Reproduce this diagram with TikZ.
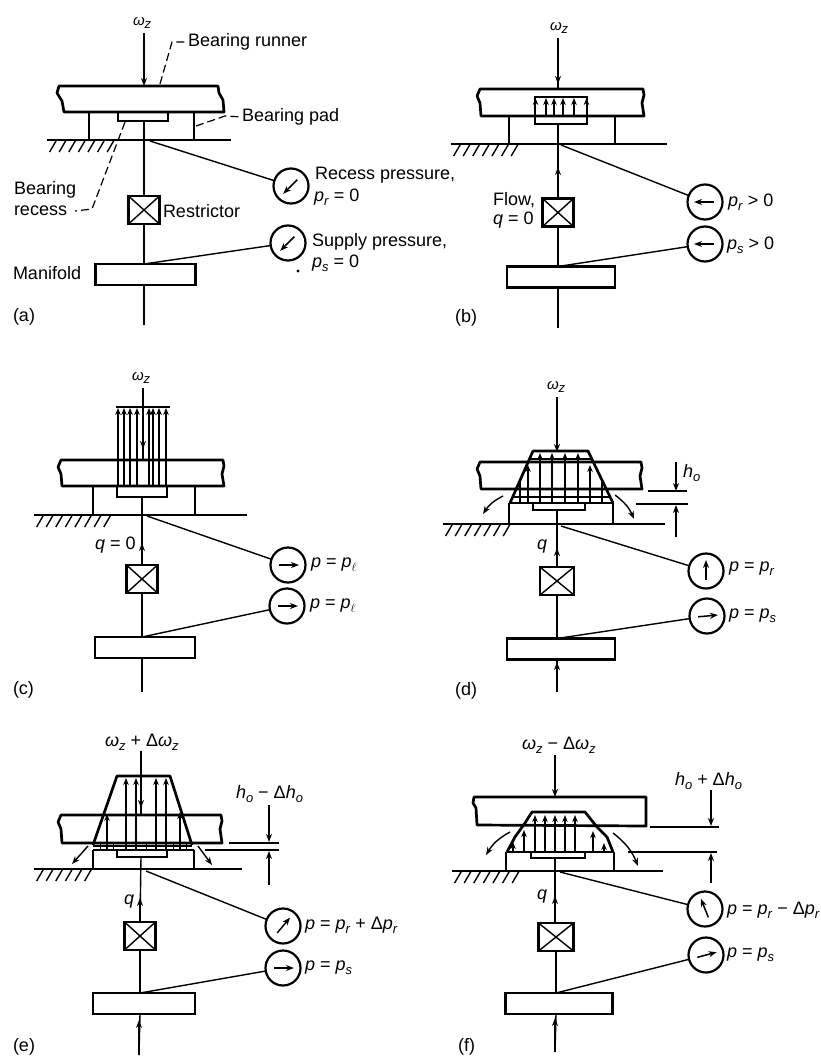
\documentclass[tikz,border=0pt]{standalone}
\usepackage{fontspec}
\setmainfont{Liberation Sans}
\usetikzlibrary{arrows.meta,calc}
\newcommand{\sbs}[1]{\raisebox{-0.4ex}{\fontsize{13}{13}\selectfont\textit{#1}}}
\newcommand{\wz}{\textit{ω}\sbs{z}}
\newcommand{\ppr}{\textit{p}\sbs{r}}
\newcommand{\pps}{\textit{p}\sbs{s}}
\newcommand{\ppl}{\textit{p}\raisebox{-0.4ex}{\fontsize{13}{13}\selectfont$\ell$}}
\newcommand{\hho}{\textit{h}\sbs{o}}
\tikzset{
  heavy/.style={line width=2.7pt,line join=round},
  fine/.style={line width=1.4pt},
  arr/.style={line width=1.4pt,-{Stealth[length=8pt,width=6pt]}},
  lead/.style={line width=1.2pt,dash pattern=on 8pt off 4pt},
  lbl/.style={inner sep=0pt,outer sep=0pt,anchor=west,font=\fontsize{18}{20}\selectfont},
  gauge/.style={draw,circle,line width=2.2pt,minimum size=35pt,inner sep=0pt,outer sep=0pt},
  restrictor/.style={draw,line width=2.8pt,minimum width=31pt,minimum height=28pt,inner sep=0pt,outer sep=0pt,
    path picture={\draw[line width=1.4pt] (path picture bounding box.south west)--(path picture bounding box.north east)
      (path picture bounding box.south east)--(path picture bounding box.north west);}},
  manifold/.style={draw,line width=2.8pt,minimum width=100pt,minimum height=21pt,inner sep=0pt,outer sep=0pt},
}
\newcommand{\runner}[4]{\draw[heavy] ({#1+3},#3) -- ({#2-1},#3) -- (#2,{#3+6}) -- ({#2-2},{#3+14}) -- (#2,#4) -- ({#1+4},#4) -- ({#1+3},{#3+14}) -- (#1,{#3+7}) -- cycle;}
\newcommand{\ground}[4]{\draw[heavy] (#1,#3) -- (#2,#3);
  \foreach \ii in {1,...,#4} \draw[fine] ({#1+\ii*9.6},#3) -- ++(-7,12);}
\newcommand{\recess}[4]{\draw[line width=1.9pt] (#1,#3) -- (#1,#4) -- (#2,#4) -- (#2,#3);}
\newcommand{\upar}[3]{\foreach \xx in {#1} \draw[line width=1.2pt,-{Stealth[length=7pt,width=5.5pt]}] (\xx,#2) -- (\xx,#3);}
\newcommand{\needle}[2]{\draw[line width=1.5pt,-{Stealth[length=8pt,width=6pt]}] ($(#1)+(#2+180:9pt)$) -- ($(#1)+(#2:11pt)$);}
\newcommand{\shaft}[1]{%
  \draw[fine] (#1-rc) -- (#1-r.north);
  \draw[fine] (#1-r.south) -- (#1-r.south |- #1-m.north);
  \draw[fine] (#1-r.south |- #1-m.south) -- (#1-bot);
  \draw[fine] (#1-j) -- (#1-g1);
  \draw[fine] (#1-r.south |- #1-m.north) -- (#1-g2);}
\begin{document}
\begin{tikzpicture}[x=1pt,y=-1pt]
\useasboundingbox (0,0) rectangle (821,1057);
\fill[white] (0,0) rectangle (821,1057);

%%% (a)
\node[lbl] (a-w) at (133,23) {\fontsize{15}{15}\selectfont\wz};
\coordinate (a-t) at (144,33);
\coordinate (a-tb) at (144,86);
\draw[arr] (a-t) -- (a-tb);
\draw[heavy] (59,86) -- (218,86) -- (219,93) -- (223,100) -- (224,112) -- (64,112) -- (62,101) -- (57,93) -- cycle;
\draw[heavy] (89,112) -- (89,139);
\draw[heavy] (194,112) -- (194,139);
\ground{47}{231}{140}{7}
\recess{118}{168}{113}{121}
\coordinate (a-rc) at (144,121);
\coordinate (a-j) at (144,141);
\coordinate (a-k) at (150,141);
\coordinate (a-bot) at (144,325);
\node[restrictor] (a-r) at (144,210) {};
\node[manifold] (a-m) at (145.5,274.5) {};
\node[gauge] (a-g1) at (291,186) {};
\node[gauge] (a-g2) at (288,243) {};
\draw[fine] (a-rc) -- (a-r.north);
\draw[fine] (a-r.south) -- (a-r.south |- a-m.north);
\draw[fine] (a-r.south |- a-m.south) -- (a-bot);
\draw[fine] (a-k) -- (a-g1);
\draw[fine] (a-r.south |- a-m.north) -- (a-g2);
\needle{a-g1}{225}
\needle{a-g2}{225}
\coordinate (a-ld1) at (160,84); \coordinate (a-ld2) at (172,42);
\coordinate (a-ld3) at (196,126); \coordinate (a-ld4) at (225,116);
\coordinate (a-ld5) at (125,122); \coordinate (a-ld6) at (92,209); \coordinate (a-ld7) at (75,211);
\node[lbl] (a-t1) at (188,42) {Bearing runner};
\node[lbl] (a-t2) at (242,117) {Bearing pad};
\node[lbl] (a-t3) at (14,190) {Bearing};
\node[lbl] (a-t4) at (14,211) {recess};
\node[lbl] (a-t5) at (163,211) {Restrictor};
\node[lbl] (a-t6) at (315,175) {Recess pressure,};
\node[lbl] (a-t7) at (314,197) {\ppr\ = 0};
\node[lbl] (a-t8) at (312,242) {Supply pressure,};
\node[lbl] (a-t9) at (312,263) {\pps\ = 0};
\node[lbl] (a-t10) at (13,273) {Manifold};
\node[lbl] (a-t11) at (13,317) {(a)};
\draw[lead] (a-ld1) -- (a-ld2) -- (a-t1.west);
\draw[lead] (a-ld3) -- (a-ld4) -- (a-t2.west);
\draw[lead] (a-ld5) -- (a-ld6) -- (a-ld7);
\fill (298,271) circle (1.6pt);

%%% (b)
\node[lbl] (b-w) at (550,28) {\fontsize{15}{15}\selectfont\wz};
\coordinate (b-t) at (558,38);
\coordinate (b-tb) at (558,89);
\draw[arr] (b-t) -- (558,84);
\draw[fine] (558,80) -- (b-tb);
\runner{477}{644}{89}{116}
\draw[heavy] (509,116) -- (509,143);
\draw[heavy] (615,116) -- (615,143);
\ground{451}{667}{144}{7}
\draw[line width=1.9pt] (535,97) rectangle (587,124);
\upar{535.5,546,554,563,574,586.5}{116}{98}
\coordinate (b-rc) at (558,124);
\coordinate (b-j) at (561,145);
\coordinate (b-bot) at (558,328);
\node[restrictor] (b-r) at (558,212.5) {};
\node[manifold,minimum width=108pt] (b-m) at (561,277) {};
\node[gauge] (b-g1) at (705,202) {};
\node[gauge] (b-g2) at (705,244) {};
\shaft{b}
\draw[arr] (b-r.north) -- (558,167);
\needle{b-g1}{180}
\needle{b-g2}{180}
\node[lbl] (b-t1) at (728,202) {\ppr\ > 0};
\node[lbl] (b-t2) at (727,245) {\pps\ > 0};
\node[lbl] (b-t3) at (493,200) {Flow,};
\node[lbl] (b-t4) at (493,220) {\textit{q} = 0};
\node[lbl] (b-t5) at (455,318) {(b)};

%%% (c)
\node[lbl] (c-w) at (132,378) {\fontsize{15}{15}\selectfont\wz};
\coordinate (c-t) at (143,388);
\draw[arr] (c-t) -- (143,449);
\draw[fine] (143,445) -- (143,461);
\runner{58}{224}{460}{486}
\draw[heavy] (93,487) -- (93,514);
\draw[heavy] (195,487) -- (195,514);
\ground{34}{247}{515}{8}
\recess{117}{167}{487}{497}
\draw[line width=1.5pt] (116,407) -- (170,407);
\upar{118,124,130,137,149,153,159,166}{487}{408}
\coordinate (c-rc) at (142,497);
\coordinate (c-j) at (147,516);
\coordinate (c-bot) at (142,692);
\node[restrictor] (c-r) at (142,579) {};
\node[manifold] (c-m) at (145,647.5) {};
\node[gauge] (c-g1) at (288,565) {};
\node[gauge] (c-g2) at (287,606) {};
\shaft{c}
\draw[arr] (c-r.north) -- (142,543);
\needle{c-g1}{0}
\needle{c-g2}{0}
\node[lbl] (c-t1) at (311,565) {\textit{p} = \ppl};
\node[lbl] (c-t2) at (310,606) {\textit{p} = \ppl};
\node[lbl] (c-t3) at (95,545) {\textit{q} = 0};
\node[lbl] (c-t4) at (13,690) {(c)};

%%% (d)
\node[lbl] (d-w) at (547,387) {\fontsize{15}{15}\selectfont\wz};
\coordinate (d-t) at (557,397);
\draw[arr] (d-t) -- (557,452);
\runner{477}{642}{462}{489}
\draw[heavy] (510,503) -- (533,451) -- (588,451) -- (613,503);
\draw[line width=2.2pt] (510,503) -- (613,503);
\draw[heavy] (509,503) -- (509,523);
\draw[heavy] (613,503) -- (613,523);
\ground{443}{665}{524}{7}
\recess{533}{585}{503}{510}
\upar{540,552,565,578}{503}{453}
\upar{528,590}{503}{465}
\foreach \xx in {520,602} \draw[fine] (\xx,503) -- (\xx,482);
\draw[fine] (530,459) -- (592,459);
\draw[fine] (513,497) -- (610,497);
\coordinate (d-rc) at (557,510);
\coordinate (d-j) at (561,526);
\coordinate (d-bot) at (557,692);
\node[restrictor,minimum width=34pt] (d-r) at (557,581) {};
\node[manifold,minimum width=108pt] (d-m) at (561,649) {};
\node[gauge] (d-g1) at (706,571) {};
\node[gauge] (d-g2) at (707,616) {};
\shaft{d}
\draw[arr] (d-r.north) -- (557,548);
\draw[arr] (d-bot) -- (557,662);
\needle{d-g1}{90}
\needle{d-g2}{5}
\draw[arr] (503,496) to[bend right=15] (483,514);
\draw[arr] (615,495) to[bend left=15] (634,519);
\coordinate (d-u1) at (648,491); \coordinate (d-u2) at (687,491);
\coordinate (d-v1) at (636,504); \coordinate (d-v2) at (688,504);
\draw[fine] (d-u1) -- (d-u2);
\draw[fine] (d-v1) -- (d-v2);
\draw[arr] (676,462) -- (676,491);
\draw[arr] (676,537) -- (676,505);
\node[lbl] (d-t1) at (683,473) {\hho};
\node[lbl] (d-t2) at (729,569) {\textit{p} = \ppr};
\node[lbl] (d-t3) at (729,616) {\textit{p} = \pps};
\node[lbl] (d-t4) at (537,547) {\textit{q}};
\node[lbl] (d-t5) at (455,691) {(d)};

%%% (e)
\node[lbl] (e-w) at (105,742) {\wz\ + Δ\textit{ω}\sbs{z}};
\coordinate (e-t) at (141,751);
\draw[arr] (e-t) -- (141,808);
\draw[fine] (141,804) -- (141,816);
\runner{58}{222}{815}{843}
\draw[heavy] (93,845) -- (117,776) -- (170,776) -- (192,845);
\draw[line width=1.8pt] (93,850) -- (194,850);
\draw[fine] (93,846) -- (192,846);
\foreach \xx in {100,113,146,173,186} \draw[line width=1pt] (\xx,843) -- (\xx,850);
\draw[heavy] (93,850) -- (93,868);
\draw[heavy] (194,850) -- (194,868);
\ground{34}{242}{869}{6}
\recess{117}{167}{851}{857}
\upar{126,136,156,166}{850}{778}
\upar{107}{850}{814}
\upar{180}{850}{812}
\coordinate (e-rc) at (141,857);
\coordinate (e-j) at (146,871);
\coordinate (e-bot) at (139,1055);
\node[restrictor] (e-r) at (140,936) {};
\node[manifold,minimum width=102pt] (e-m) at (144,1003.5) {};
\node[gauge] (e-g1) at (283,926) {};
\node[gauge] (e-g2) at (283,968) {};
\shaft{e}
\draw[arr] (e-r.north) -- (140,898);
\draw[arr] (e-bot) -- (139,1020);
\needle{e-g1}{50}
\needle{e-g2}{0}
\draw[arr] (88,846) -- (72,864);
\draw[arr] (198,846) -- (212,865);
\coordinate (e-u1) at (229,843); \coordinate (e-u2) at (279,843);
\coordinate (e-v1) at (205,850); \coordinate (e-v2) at (279,850);
\draw[fine] (e-u1) -- (e-u2);
\draw[fine] (e-v1) -- (e-v2);
\draw[arr] (269,805) -- (269,842);
\draw[arr] (269,885) -- (269,851);
\node[lbl] (e-t1) at (236,794) {\hho\ − Δ\textit{h}\sbs{o}};
\node[lbl] (e-t2) at (305,925) {\textit{p} = \ppr\ + Δ\ppr};
\node[lbl] (e-t3) at (305,968) {\textit{p} = \pps};
\node[lbl] (e-t4) at (124,902) {\textit{q}};
\node[lbl] (e-t5) at (13,1047) {(e)};

%%% (f)
\node[lbl] (f-w) at (522,745) {\wz\ − Δ\textit{ω}\sbs{z}};
\coordinate (f-t) at (555,755);
\draw[arr] (f-t) -- (555,797);
\draw[heavy] (474,797) -- (646,797) -- (646,826) -- (477,825) -- (476,808) -- (473,803) -- cycle;
\draw[heavy] (507,852) -- (515,837) -- (525,823) -- (532,812) -- (585,812) -- (597,827) -- (607,837) -- (613,852);
\draw[line width=2pt] (507,852) -- (613,852);
\draw[heavy] (506,852) -- (506,870);
\draw[heavy] (614,852) -- (614,870);
\ground{452}{663}{871}{7}
\recess{531}{585}{852}{858}
\upar{535,545,555,565,575}{852}{815}
\upar{513}{852}{842}
\upar{524}{852}{830}
\upar{593}{852}{831}
\upar{604}{852}{843}
\coordinate (f-rc) at (555,858);
\coordinate (f-j) at (560,872);
\coordinate (f-bot) at (555,1052);
\node[restrictor,minimum width=35pt] (f-r) at (556,937) {};
\node[manifold,minimum width=107pt] (f-m) at (559,1003.5) {};
\node[gauge] (f-g1) at (705,909) {};
\node[gauge] (f-g2) at (706,955) {};
\draw[fine] (f-rc) -- (f-r.north -| f-rc);
\draw[fine] (f-r.south) -- (f-r.south |- f-m.north);
\draw[fine] (f-r.south |- f-m.south) -- (f-bot);
\draw[fine] (f-j) -- (f-g1);
\draw[fine] (f-r.south |- f-m.north) -- (f-g2);
\draw[arr] (f-r.north -| f-rc) -- (555,896);
\draw[arr] (f-bot) -- (555,1018);
\needle{f-g1}{112}
\needle{f-g2}{15}
\draw[arr] (510,832) to[bend right=15] (486,855);
\draw[arr] (613,833) to[bend left=15] (638,866);
\coordinate (f-u1) at (650,827); \coordinate (f-u2) at (719,827);
\coordinate (f-v1) at (628,852); \coordinate (f-v2) at (717,852);
\draw[fine] (f-u1) -- (f-u2);
\draw[fine] (f-v1) -- (f-v2);
\draw[arr] (711,790) -- (711,826);
\draw[arr] (711,883) -- (711,853);
\node[lbl] (f-t1) at (675,781) {\hho\ + Δ\textit{h}\sbs{o}};
\node[lbl] (f-t2) at (727,910) {\textit{p} = \ppr\ − Δ\ppr};
\node[lbl] (f-t3) at (727,955) {\textit{p} = \pps};
\node[lbl] (f-t4) at (537,897) {\textit{q}};
\node[lbl] (f-t5) at (458,1047) {(f)};
\end{tikzpicture}
\end{document}
